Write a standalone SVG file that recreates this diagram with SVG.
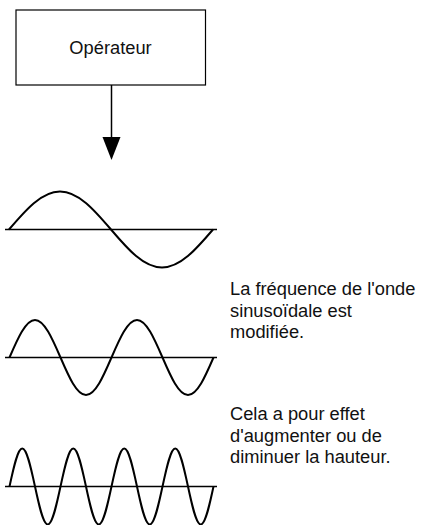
<svg xmlns="http://www.w3.org/2000/svg" width="421" height="525" viewBox="0 0 421 525">
<style>
.box{fill:#fff;stroke:#000;stroke-width:1.2}
.lbl{font-family:"Liberation Sans",Arial,sans-serif;font-size:18.3px;fill:#111}
.axis{stroke:#000;stroke-width:1.5;fill:none}
.wave{stroke:#000;stroke-width:2;fill:none}
.conn{stroke:#000;stroke-width:1.5;fill:none}
</style>
<rect width="421" height="525" fill="#fff"/>
<g id="operateur">
<rect class="box" x="16" y="10" width="189.5" height="75"/>
<text class="lbl" x="110.5" y="54" text-anchor="middle">Opérateur</text>
</g>
<g id="connectors">
<path class="conn" d="M111.5,85 V137"/>
<path d="M102.5,137 L120.5,137 L111.5,160 Z" fill="#000"/>
</g>
<g id="wave1">
<line class="axis" x1="5" y1="229.5" x2="217" y2="229.5"/>
<path class="wave" d="M9,229.5 c16.63,-19.47 32.54,-38 51,-38 s34.37,18.53 51,38 s32.54,38 51,38 s34.37,-18.53 51,-38"/>
</g>
<g id="wave2">
<line class="axis" x1="5" y1="357.5" x2="217" y2="357.5"/>
<path class="wave" d="M9.5,357.5 c8.32,-19.21 16.27,-37.5 25.5,-37.5 s17.18,18.29 25.5,37.5 s16.27,37.5 25.5,37.5 s17.18,-18.29 25.5,-37.5 s16.27,-37.5 25.5,-37.5 s17.18,18.29 25.5,37.5 s16.27,37.5 25.5,37.5 s17.18,-18.29 25.5,-37.5"/>
</g>
<g id="wave3">
<line class="axis" x1="5" y1="486.5" x2="217" y2="486.5"/>
<path class="wave" d="M9.5,486.5 c4.16,-19.47 8.14,-38 12.75,-38 s8.59,18.53 12.75,38 s8.14,38 12.75,38 s8.59,-18.53 12.75,-38 s8.14,-38 12.75,-38 s8.59,18.53 12.75,38 s8.14,38 12.75,38 s8.59,-18.53 12.75,-38 s8.14,-38 12.75,-38 s8.59,18.53 12.75,38 s8.14,38 12.75,38 s8.59,-18.53 12.75,-38 s8.14,-38 12.75,-38 s8.59,18.53 12.75,38 s8.14,38 12.75,38 s8.59,-18.53 12.75,-38"/>
</g>
<g id="text1">
<text class="lbl" x="230" y="295">La fréquence de l'onde</text>
<text class="lbl" x="230" y="316.6">sinusoïdale est</text>
<text class="lbl" x="230" y="338.2">modifiée.</text>
</g>
<g id="text2">
<text class="lbl" x="230" y="420">Cela a pour effet</text>
<text class="lbl" x="230" y="441.6">d'augmenter ou de</text>
<text class="lbl" x="230" y="463.2">diminuer la hauteur.</text>
</g>
</svg>
